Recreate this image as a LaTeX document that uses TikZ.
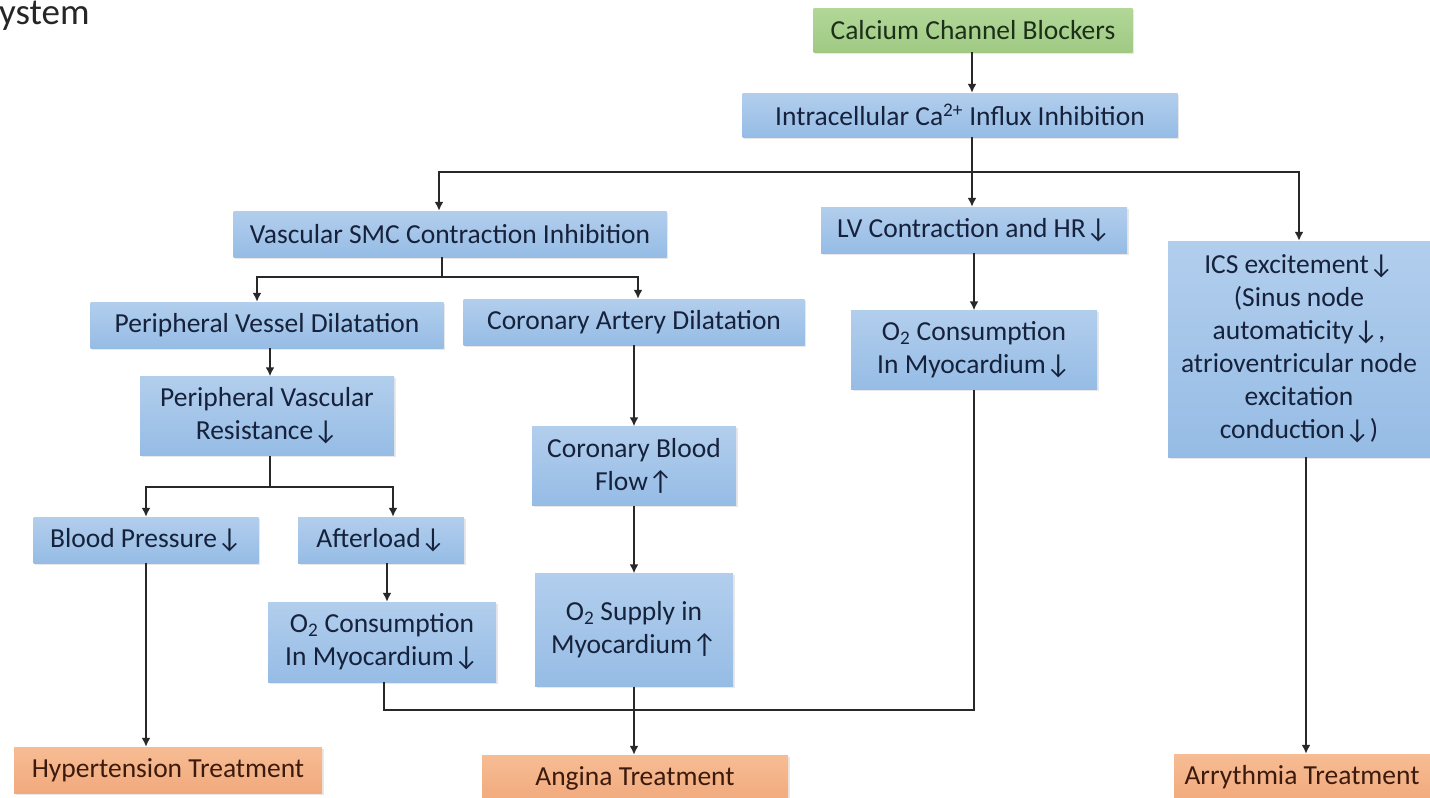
\documentclass[tikz,border=0pt]{standalone}
\usepackage{fontspec}
\setmainfont{Carlito}
\usetikzlibrary{arrows.meta,shadows}
\definecolor{bluetop}{RGB}{178,206,237}
\definecolor{bluebot}{RGB}{150,188,229}
\definecolor{bluetext}{RGB}{22,34,60}
\definecolor{greentop}{RGB}{178,215,152}
\definecolor{greenbot}{RGB}{160,202,132}
\definecolor{greentext}{RGB}{28,48,24}
\definecolor{orangetop}{RGB}{247,188,148}
\definecolor{orangebot}{RGB}{241,170,124}
\definecolor{orangetext}{RGB}{60,26,14}
\definecolor{linegray}{RGB}{40,40,40}
\tikzstyle{every node}=[font=\fontsize{27.5}{33}\selectfont]
\tikzstyle{box}=[rectangle,inner sep=0pt,align=center,top color=bluetop,bottom color=bluebot,
  text=bluetext,drop shadow={opacity=0.18,shadow xshift=1.5pt,shadow yshift=-1.5pt}]
\tikzstyle{startbox}=[box,top color=greentop,bottom color=greenbot,text=greentext]
\tikzstyle{endbox}=[box,top color=orangetop,bottom color=orangebot,text=orangetext]
\tikzstyle{link}=[draw=linegray,line width=2.6pt]
\tikzstyle{arrow}=[link,-{Latex[length=9pt,width=9pt]}]

\begin{document}
\begin{tikzpicture}[x=1pt,y=-1pt]
  \useasboundingbox (0,0) rectangle (1430,798);
  \node(title)[anchor=base west,inner sep=0pt,font=\fontsize{37}{44}\selectfont,text=black!85] at (-1,24){ystem};
  % top of the chain
  \node(ccb)[startbox,minimum width=319pt,minimum height=44pt] at (973,30){Calcium Channel Blockers};
  \node(intra)[box,minimum width=435pt,minimum height=44pt] at (960,115){Intracellular Ca\textsuperscript{2+} Influx Inhibition};
  % second row
  \node(vsmc)[box,minimum width=433pt,minimum height=46pt] at (450,234){Vascular SMC Contraction Inhibition};
  \node(lv)[box,minimum width=306pt,minimum height=46pt] at (974,230){LV Contraction and HR↓};
  \node(ics)[box,minimum width=262pt,minimum height=216pt] at (1299,349){ICS excitement↓\\(Sinus node\\automaticity↓,\\atrioventricular node\\excitation\\conduction↓)};
  % vascular branch
  \node(pvd)[box,minimum width=353pt,minimum height=46pt] at (267,325){Peripheral Vessel Dilatation};
  \node(cad)[box,minimum width=341pt,minimum height=46pt] at (634,322){Coronary Artery Dilatation};
  \node(pvr)[box,minimum width=254pt,minimum height=79pt] at (267,416){Peripheral Vascular\\Resistance↓};
  \node(bp)[box,minimum width=225pt,minimum height=46pt] at (146,540){Blood Pressure↓};
  \node(aft)[box,minimum width=166pt,minimum height=46pt] at (381,540){Afterload↓};
  \node(o2l)[box,minimum width=228pt,minimum height=80pt] at (382,642){O\textsubscript{2} Consumption\\In Myocardium↓};
  \node(cbf)[box,minimum width=204pt,minimum height=79pt] at (634,466){Coronary Blood\\Flow↑};
  \node(o2s)[box,minimum width=198pt,minimum height=113pt] at (634,630){O\textsubscript{2} Supply in\\Myocardium↑};
  \node(o2r)[box,minimum width=246pt,minimum height=79pt] at (974,350){O\textsubscript{2} Consumption\\In Myocardium↓};
  % treatments
  \node(hyp)[endbox,minimum width=308pt,minimum height=46pt] at (168,770){Hypertension Treatment};
  \node(ang)[endbox,minimum width=306pt,minimum height=46pt] at (635,778){Angina Treatment};
  \node(arr)[endbox,minimum width=256pt,minimum height=46pt] at (1302,777){Arrythmia Treatment};
  % junctions
  \coordinate(split1) at (972,172);
  \coordinate(split2) at (442,277);
  \coordinate(split3) at (270,487);
  \coordinate(merge) at (634,710);
  % connectors
  \draw[arrow] (ccb.south -| split1) -- (intra.north -| split1);
  \draw[link] (intra.south -| split1) -- (split1);
  \draw[arrow] (split1) -| ([xshift=-11pt]vsmc.north);
  \draw[arrow] (split1) -- (lv.north -| split1);
  \draw[arrow] (split1) -| (ics.north);
  \draw[link] (vsmc.south -| split2) -- (split2);
  \draw[arrow] (split2) -| ([xshift=-10pt]pvd.north);
  \draw[arrow] (split2) -| ([xshift=4pt]cad.north);
  \draw[arrow] (pvd.south -| split3) -- (pvr.north -| split3);
  \draw[link] (pvr.south -| split3) -- (split3);
  \draw[arrow] (split3) -| (bp.north);
  \draw[arrow] (split3) -| ([xshift=12pt]aft.north);
  \draw[arrow] ([xshift=6pt]aft.south) -- ([xshift=5pt]o2l.north);
  \draw[arrow] (bp.south) -- (bp.south |- hyp.north);
  \draw[arrow] (cad.south -| merge) -- (cbf.north -| merge);
  \draw[arrow] (cbf.south -| merge) -- (o2s.north -| merge);
  \draw[arrow] (o2s.south -| merge) -- (ang.north -| merge);
  \draw[arrow] (lv) -- (o2r);
  \draw[link] ([xshift=2pt]o2l.south) |- (merge) -| (o2r.south);
  \draw[arrow] ([xshift=7pt]ics.south) -- ([xshift=7pt]ics.south |- arr.north);
\end{tikzpicture}
\end{document}
